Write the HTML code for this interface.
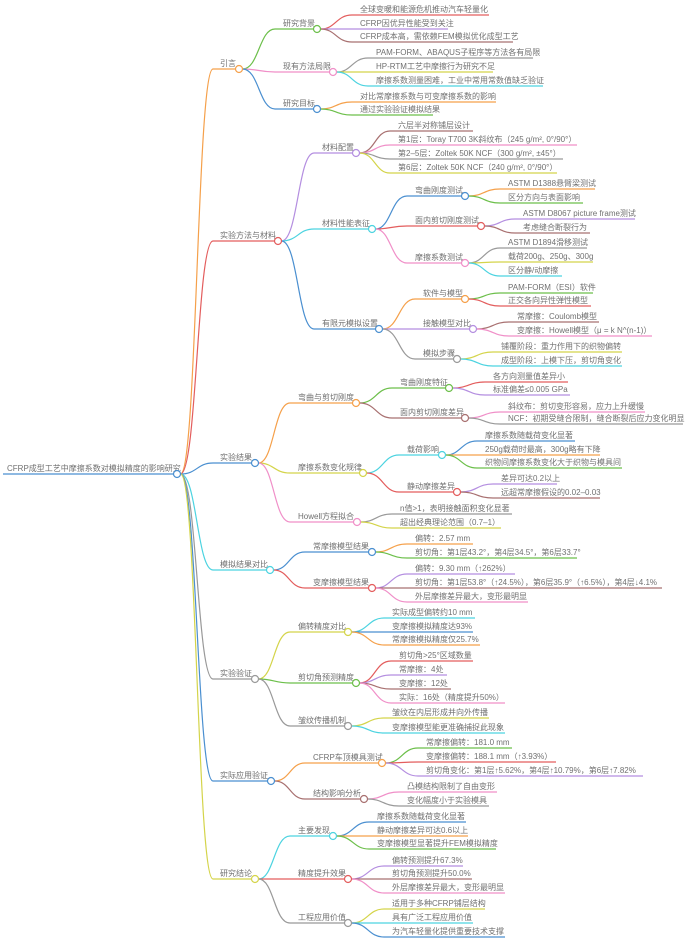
<!DOCTYPE html>
<html><head><meta charset="utf-8"><style>
html,body{margin:0;padding:0;background:#fff;}
svg{display:block;}
text{font-family:"Liberation Sans","Noto Sans CJK SC",sans-serif;font-size:8px;fill:#707070;}
path{fill:none;stroke-width:1.2;}
circle{fill:#fff;stroke-width:1.2;}
</style></head><body>
<svg width="692" height="946" viewBox="0 0 692 946" xmlns="http://www.w3.org/2000/svg">
<path d="M3 474H173.5" stroke="#4a8fd0"/>
<text x="7" y="471">CFRP成型工艺中摩擦系数对模拟精度的影响研究</text>

<path d="M180.5 474C197 474 197 69 213 69H235.5" stroke="#f5a04a"/>
<path d="M180.5 474C197 474 197 241 213 241H274.5" stroke="#e35d5d"/>
<path d="M180.5 474C197 474 197 463 213 463H251.5" stroke="#4a8fd0"/>
<path d="M180.5 474C197 474 197 570 213 570H266.5" stroke="#4cd3e0"/>
<path d="M180.5 474C197 474 197 679 213 679H251.5" stroke="#999"/>
<path d="M180.5 474C197 474 197 781 213 781H267.5" stroke="#4a8fd0"/>
<path d="M180.5 474C197 474 197 879 213 879H251.5" stroke="#d4d44a"/>
<text x="220" y="66">引言</text>
<text x="220" y="238">实验方法与材料</text>
<text x="220" y="460">实验结果</text>
<text x="220" y="567">模拟结果对比</text>
<text x="220" y="676">实验验证</text>
<text x="220" y="778">实际应用验证</text>
<text x="220" y="876">研究结论</text>

<path d="M242.5 69C259 69 259 29 275 29H313.5" stroke="#6cbf4a"/>
<path d="M242.5 69C259 69 259 72 275 72H329.5" stroke="#f08fc8"/>
<path d="M242.5 69C259 69 259 109 275 109H313.5" stroke="#4a8fd0"/>
<text x="283" y="26">研究背景</text>
<text x="283" y="69">现有方法局限</text>
<text x="283" y="106">研究目标</text>
<path d="M320.5 29C336 29 336 15 352 15H489" stroke="#e35d5d"/>
<path d="M320.5 29C336 29 336 29 352 29H448" stroke="#b48ee0"/>
<path d="M320.5 29C336 29 336 42 352 42H513" stroke="#a87070"/>
<text x="360" y="12">全球变暖和能源危机推动汽车轻量化</text>
<text x="360" y="26">CFRP因优异性能受到关注</text>
<text x="360" y="39">CFRP成本高，需依赖FEM模拟优化成型工艺</text>
<path d="M336.5 72C352 72 352 58 368 58H533" stroke="#999"/>
<path d="M336.5 72C352 72 352 72 368 72H493" stroke="#d4d44a"/>
<path d="M336.5 72C352 72 352 86 368 86H543" stroke="#4cd3e0"/>
<text x="376" y="55">PAM-FORM、ABAQUS子程序等方法各有局限</text>
<text x="376" y="69">HP-RTM工艺中摩擦行为研究不足</text>
<text x="376" y="83">摩擦系数测量困难，工业中常用常数值缺乏验证</text>
<path d="M320.5 109C336 109 336 102 352 102H496" stroke="#f5a04a"/>
<path d="M320.5 109C336 109 336 115 352 115H433" stroke="#6cbf4a"/>
<text x="360" y="99">对比常摩擦系数与可变摩擦系数的影响</text>
<text x="360" y="112">通过实验验证模拟结果</text>

<path d="M281.5 241C298 241 298 153 314 153H352.5" stroke="#b48ee0"/>
<path d="M281.5 241C298 241 298 229 314 229H368.5" stroke="#4cd3e0"/>
<path d="M281.5 241C298 241 298 329 314 329H375.5" stroke="#4a8fd0"/>
<text x="322" y="150">材料配置</text>
<text x="322" y="226">材料性能表征</text>
<text x="322" y="326">有限元模拟设置</text>
<path d="M359.5 153C375 153 375 131 390 131H473" stroke="#a87070"/>
<path d="M359.5 153C375 153 375 145 390 145H577" stroke="#f08fc8"/>
<path d="M359.5 153C375 153 375 159 390 159H563" stroke="#999"/>
<path d="M359.5 153C375 153 375 173 390 173H557" stroke="#d4d44a"/>
<text x="398" y="128">六层半对称铺层设计</text>
<text x="398" y="142">第1层：Toray T700 3K斜纹布（245 g/m², 0°/90°）</text>
<text x="398" y="156">第2–5层：Zoltek 50K NCF（300 g/m², ±45°）</text>
<text x="398" y="170">第6层：Zoltek 50K NCF（240 g/m², 0°/90°）</text>
<path d="M375.5 229C391 229 391 196 407 196H461.5" stroke="#4a8fd0"/>
<path d="M375.5 229C391 229 391 226 407 226H477.5" stroke="#e35d5d"/>
<path d="M375.5 229C391 229 391 263 407 263H461.5" stroke="#f08fc8"/>
<text x="415" y="193">弯曲刚度测试</text>
<text x="415" y="223">面内剪切刚度测试</text>
<text x="415" y="260">摩擦系数测试</text>
<path d="M468.5 196C484 196 484 189 500 189H595" stroke="#f5a04a"/>
<path d="M468.5 196C484 196 484 203 500 203H583" stroke="#6cbf4a"/>
<text x="508" y="186">ASTM D1388悬臂梁测试</text>
<text x="508" y="200">区分方向与表面影响</text>
<path d="M484.5 226C500 226 500 219 515 219H635" stroke="#b48ee0"/>
<path d="M484.5 226C500 226 500 233 515 233H590" stroke="#a87070"/>
<text x="523" y="216">ASTM D8067 picture frame测试</text>
<text x="523" y="230">考虑缝合断裂行为</text>
<path d="M468.5 263C484 263 484 248 500 248H587" stroke="#999"/>
<path d="M468.5 263C484 263 484 262 500 262H593" stroke="#d4d44a"/>
<path d="M468.5 263C484 263 484 276 500 276H562" stroke="#4cd3e0"/>
<text x="508" y="245">ASTM D1894滑移测试</text>
<text x="508" y="259">载荷200g、250g、300g</text>
<text x="508" y="273">区分静/动摩擦</text>
<path d="M382.5 329C399 329 399 299 415 299H461.5" stroke="#f5a04a"/>
<path d="M382.5 329C399 329 399 329 415 329H469.5" stroke="#b48ee0"/>
<path d="M382.5 329C399 329 399 359 415 359H453.5" stroke="#999"/>
<text x="423" y="296">软件与模型</text>
<text x="423" y="326">接触模型对比</text>
<text x="423" y="356">模拟步骤</text>
<path d="M468.5 299C484 299 484 293 500 293H593" stroke="#6cbf4a"/>
<path d="M468.5 299C484 299 484 306 500 306H591" stroke="#e35d5d"/>
<text x="508" y="290">PAM-FORM（ESI）软件</text>
<text x="508" y="303">正交各向异性弹性模型</text>
<path d="M476.5 329C493 329 493 322 509 322H599" stroke="#a87070"/>
<path d="M476.5 329C493 329 493 336 509 336H652" stroke="#f08fc8"/>
<text x="517" y="319">常摩擦：Coulomb模型</text>
<text x="517" y="333">变摩擦：Howell模型（μ = k N^(n-1)）</text>
<path d="M460.5 359C477 359 477 352 493 352H622" stroke="#d4d44a"/>
<path d="M460.5 359C477 359 477 366 493 366H622" stroke="#4cd3e0"/>
<text x="501" y="349">铺覆阶段：重力作用下的织物偏转</text>
<text x="501" y="363">成型阶段：上模下压，剪切角变化</text>

<path d="M258.5 463C274 463 274 403 290 403H352.5" stroke="#f5a04a"/>
<path d="M258.5 463C274 463 274 473 290 473H359.5" stroke="#d4d44a"/>
<path d="M258.5 463C274 463 274 522 290 522H353.5" stroke="#f08fc8"/>
<text x="298" y="400">弯曲与剪切刚度</text>
<text x="298" y="470">摩擦系数变化规律</text>
<text x="298" y="519">Howell方程拟合</text>
<path d="M359.5 403C376 403 376 388 392 388H445.5" stroke="#6cbf4a"/>
<path d="M359.5 403C376 403 376 418 392 418H461.5" stroke="#a87070"/>
<text x="400" y="385">弯曲刚度特征</text>
<text x="400" y="415">面内剪切刚度差异</text>
<path d="M452.5 388C469 388 469 382 485 382H568" stroke="#e35d5d"/>
<path d="M452.5 388C469 388 469 395 485 395H570" stroke="#b48ee0"/>
<text x="493" y="379">各方向测量值差异小</text>
<text x="493" y="392">标准偏差≤0.005 GPa</text>
<path d="M468.5 418C484 418 484 412 500 412H645" stroke="#f08fc8"/>
<path d="M468.5 418C484 418 484 424 500 424H683" stroke="#999"/>
<text x="508" y="409">斜纹布：剪切变形容易，应力上升缓慢</text>
<text x="508" y="421">NCF：初期受缝合限制，缝合断裂后应力变化明显</text>
<path d="M366.5 473C383 473 383 455 399 455H438.5" stroke="#4cd3e0"/>
<path d="M366.5 473C383 473 383 492 399 492H453.5" stroke="#e35d5d"/>
<text x="407" y="452">载荷影响</text>
<text x="407" y="489">静动摩擦差异</text>
<path d="M445.5 455C461 455 461 441 477 441H575" stroke="#4a8fd0"/>
<path d="M445.5 455C461 455 461 455 477 455H600" stroke="#f5a04a"/>
<path d="M445.5 455C461 455 461 468 477 468H622" stroke="#6cbf4a"/>
<text x="485" y="438">摩擦系数随载荷变化显著</text>
<text x="485" y="452">250g载荷时最高，300g略有下降</text>
<text x="485" y="465">织物间摩擦系数变化大于织物与模具间</text>
<path d="M460.5 492C477 492 477 484 493 484H557" stroke="#b48ee0"/>
<path d="M460.5 492C477 492 477 498 493 498H600" stroke="#a87070"/>
<text x="501" y="481">差异可达0.2以上</text>
<text x="501" y="495">远超常摩擦假设的0.02–0.03</text>
<path d="M360.5 522C376 522 376 514 392 514H512" stroke="#999"/>
<path d="M360.5 522C376 522 376 528 392 528H501" stroke="#d4d44a"/>
<text x="400" y="511">n值>1，表明接触面积变化显著</text>
<text x="400" y="525">超出经典理论范围（0.7–1）</text>

<path d="M273.5 570C289 570 289 552 305 552H368.5" stroke="#4a8fd0"/>
<path d="M273.5 570C289 570 289 588 305 588H368.5" stroke="#e35d5d"/>
<text x="313" y="549">常摩擦模型结果</text>
<text x="313" y="585">变摩擦模型结果</text>
<path d="M375.5 552C391 552 391 544 407 544H473" stroke="#f5a04a"/>
<path d="M375.5 552C391 552 391 558 407 558H577" stroke="#6cbf4a"/>
<text x="415" y="541">偏转：2.57 mm</text>
<text x="415" y="555">剪切角：第1层43.2°，第4层34.5°，第6层33.7°</text>
<path d="M375.5 588C391 588 391 574 407 574H515" stroke="#b48ee0"/>
<path d="M375.5 588C391 588 391 588 407 588H662" stroke="#a87070"/>
<path d="M375.5 588C391 588 391 602 407 602H528" stroke="#f08fc8"/>
<text x="415" y="571">偏转：9.30 mm（↑262%）</text>
<text x="415" y="585">剪切角：第1层53.8°（↑24.5%），第6层35.9°（↑6.5%），第4层↓4.1%</text>
<text x="415" y="599">外层摩擦差异最大，变形最明显</text>

<path d="M258.5 679C274 679 274 632 290 632H344.5" stroke="#d4d44a"/>
<path d="M258.5 679C274 679 274 683 290 683H352.5" stroke="#6cbf4a"/>
<path d="M258.5 679C274 679 274 726 290 726H344.5" stroke="#999"/>
<text x="298" y="629">偏转精度对比</text>
<text x="298" y="680">剪切角预测精度</text>
<text x="298" y="723">皱纹传播机制</text>
<path d="M351.5 632C368 632 368 618 384 618H475" stroke="#4cd3e0"/>
<path d="M351.5 632C368 632 368 632 384 632H473" stroke="#4a8fd0"/>
<path d="M351.5 632C368 632 368 645 384 645H480" stroke="#f5a04a"/>
<text x="392" y="615">实际成型偏转约10 mm</text>
<text x="392" y="629">变摩擦模拟精度达93%</text>
<text x="392" y="642">常摩擦模拟精度仅25.7%</text>
<path d="M359.5 683C375 683 375 661 391 661H473" stroke="#e35d5d"/>
<path d="M359.5 683C375 683 375 675 391 675H447" stroke="#b48ee0"/>
<path d="M359.5 683C375 683 375 689 391 689H451" stroke="#a87070"/>
<path d="M359.5 683C375 683 375 703 391 703H505" stroke="#f08fc8"/>
<text x="399" y="658">剪切角>25°区域数量</text>
<text x="399" y="672">常摩擦：4处</text>
<text x="399" y="686">变摩擦：12处</text>
<text x="399" y="700">实际：16处（精度提升50%）</text>
<path d="M351.5 726C368 726 368 718 384 718H489" stroke="#d4d44a"/>
<path d="M351.5 726C368 726 368 733 384 733H505" stroke="#4cd3e0"/>
<text x="392" y="715">皱纹在内层形成并向外传播</text>
<text x="392" y="730">变摩擦模型能更准确捕捉此现象</text>

<path d="M274.5 781C290 781 290 763 305 763H378.5" stroke="#f5a04a"/>
<path d="M274.5 781C290 781 290 799 305 799H360.5" stroke="#a87070"/>
<text x="313" y="760">CFRP车顶模具测试</text>
<text x="313" y="796">结构影响分析</text>
<path d="M385.5 763C402 763 402 748 418 748H512" stroke="#6cbf4a"/>
<path d="M385.5 763C402 763 402 762 418 762H556" stroke="#e35d5d"/>
<path d="M385.5 763C402 763 402 776 418 776H643" stroke="#b48ee0"/>
<text x="426" y="745">常摩擦偏转：181.0 mm</text>
<text x="426" y="759">变摩擦偏转：188.1 mm（↑3.93%）</text>
<text x="426" y="773">剪切角变化：第1层↑5.62%，第4层↑10.79%，第6层↑7.82%</text>
<path d="M367.5 799C383 799 383 792 399 792H497" stroke="#f08fc8"/>
<path d="M367.5 799C383 799 383 806 399 806H489" stroke="#999"/>
<text x="407" y="789">凸模结构限制了自由变形</text>
<text x="407" y="803">变化幅度小于实验模具</text>

<path d="M258.5 879C274 879 274 836 290 836H329.5" stroke="#4cd3e0"/>
<path d="M258.5 879C274 879 274 879 290 879H344.5" stroke="#e35d5d"/>
<path d="M258.5 879C274 879 274 923 290 923H344.5" stroke="#999"/>
<text x="298" y="833">主要发现</text>
<text x="298" y="876">精度提升效果</text>
<text x="298" y="920">工程应用价值</text>
<path d="M336.5 836C353 836 353 822 369 822H466" stroke="#4a8fd0"/>
<path d="M336.5 836C353 836 353 836 369 836H468" stroke="#f5a04a"/>
<path d="M336.5 836C353 836 353 849 369 849H496" stroke="#6cbf4a"/>
<text x="377" y="819">摩擦系数随载荷变化显著</text>
<text x="377" y="833">静动摩擦差异可达0.6以上</text>
<text x="377" y="846">变摩擦模型显著提升FEM模拟精度</text>
<path d="M351.5 879C368 879 368 866 384 866H463" stroke="#b48ee0"/>
<path d="M351.5 879C368 879 368 879 384 879H472" stroke="#a87070"/>
<path d="M351.5 879C368 879 368 893 384 893H505" stroke="#f08fc8"/>
<text x="392" y="863">偏转预测提升67.3%</text>
<text x="392" y="876">剪切角预测提升50.0%</text>
<text x="392" y="890">外层摩擦差异最大，变形最明显</text>
<path d="M351.5 923C368 923 368 909 384 909H485" stroke="#d4d44a"/>
<path d="M351.5 923C368 923 368 923 384 923H473" stroke="#4cd3e0"/>
<path d="M351.5 923C368 923 368 937 384 937H505" stroke="#4a8fd0"/>
<text x="392" y="906">适用于多种CFRP铺层结构</text>
<text x="392" y="920">具有广泛工程应用价值</text>
<text x="392" y="934">为汽车轻量化提供重要技术支撑</text>

<circle cx="177" cy="474" r="3.5" stroke="#4a8fd0"/>
<circle cx="239" cy="69" r="3.5" stroke="#f5a04a"/>
<circle cx="278" cy="241" r="3.5" stroke="#e35d5d"/>
<circle cx="255" cy="463" r="3.5" stroke="#4a8fd0"/>
<circle cx="270" cy="570" r="3.5" stroke="#4cd3e0"/>
<circle cx="255" cy="679" r="3.5" stroke="#999"/>
<circle cx="271" cy="781" r="3.5" stroke="#4a8fd0"/>
<circle cx="255" cy="879" r="3.5" stroke="#d4d44a"/>
<circle cx="317" cy="29" r="3.5" stroke="#6cbf4a"/>
<circle cx="333" cy="72" r="3.5" stroke="#f08fc8"/>
<circle cx="317" cy="109" r="3.5" stroke="#4a8fd0"/>
<circle cx="356" cy="153" r="3.5" stroke="#b48ee0"/>
<circle cx="372" cy="229" r="3.5" stroke="#4cd3e0"/>
<circle cx="379" cy="329" r="3.5" stroke="#4a8fd0"/>
<circle cx="465" cy="196" r="3.5" stroke="#4a8fd0"/>
<circle cx="481" cy="226" r="3.5" stroke="#e35d5d"/>
<circle cx="465" cy="263" r="3.5" stroke="#f08fc8"/>
<circle cx="465" cy="299" r="3.5" stroke="#f5a04a"/>
<circle cx="473" cy="329" r="3.5" stroke="#b48ee0"/>
<circle cx="457" cy="359" r="3.5" stroke="#999"/>
<circle cx="356" cy="403" r="3.5" stroke="#f5a04a"/>
<circle cx="363" cy="473" r="3.5" stroke="#d4d44a"/>
<circle cx="357" cy="522" r="3.5" stroke="#f08fc8"/>
<circle cx="449" cy="388" r="3.5" stroke="#6cbf4a"/>
<circle cx="465" cy="418" r="3.5" stroke="#a87070"/>
<circle cx="442" cy="455" r="3.5" stroke="#4cd3e0"/>
<circle cx="457" cy="492" r="3.5" stroke="#e35d5d"/>
<circle cx="372" cy="552" r="3.5" stroke="#4a8fd0"/>
<circle cx="372" cy="588" r="3.5" stroke="#e35d5d"/>
<circle cx="348" cy="632" r="3.5" stroke="#d4d44a"/>
<circle cx="356" cy="683" r="3.5" stroke="#6cbf4a"/>
<circle cx="348" cy="726" r="3.5" stroke="#999"/>
<circle cx="382" cy="763" r="3.5" stroke="#f5a04a"/>
<circle cx="364" cy="799" r="3.5" stroke="#a87070"/>
<circle cx="333" cy="836" r="3.5" stroke="#4cd3e0"/>
<circle cx="348" cy="879" r="3.5" stroke="#e35d5d"/>
<circle cx="348" cy="923" r="3.5" stroke="#999"/>
</svg>
</body></html>
